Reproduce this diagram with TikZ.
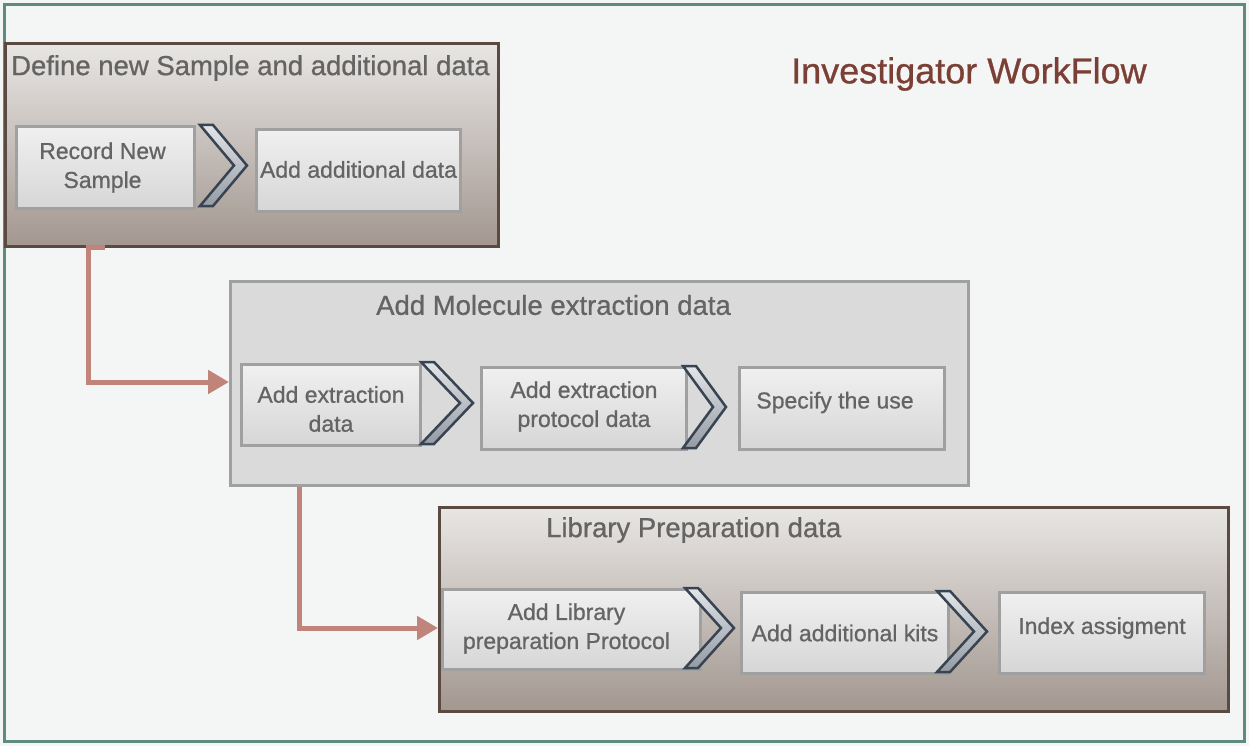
\documentclass[tikz,border=0pt]{standalone}
\usepackage{fontspec}
\setmainfont{Liberation Sans}
\newfontfamily\medfont[FakeBold=0.8]{Liberation Sans}
\usetikzlibrary{arrows.meta}
\definecolor{bgc}{HTML}{F4F6F5}
\definecolor{framec}{HTML}{5F8A80}
\definecolor{brownb}{HTML}{5A4A42}
\definecolor{gtop}{HTML}{E8E6E4}
\definecolor{gbot}{HTML}{A39790}
\definecolor{grayb}{HTML}{A0A0A0}
\definecolor{grayfill}{HTML}{DADADA}
\definecolor{txt}{HTML}{646464}
\definecolor{itop}{HTML}{F0F0F0}
\definecolor{ibot}{HTML}{D6D6D6}
\definecolor{chevb}{HTML}{384452}
\definecolor{chevtop}{HTML}{E2E5E8}
\definecolor{chevbot}{HTML}{959BA4}
\definecolor{arrowc}{HTML}{C0847A}
\definecolor{titlec}{HTML}{7B3F35}
\tikzset{
  stage/.style={draw=brownb, line width=3pt, top color=gtop, bottom color=gbot},
  graystage/.style={draw=grayb, line width=2.5pt, fill=grayfill},
  stepbox/.style={draw=grayb, line width=3pt, top color=itop, bottom color=ibot, inner sep=0pt},
  steptext/.style={text=txt, align=center, font=\medfont\fontsize{23}{29}\selectfont, inner sep=0pt},
  chev/.style={draw=chevb, line width=2.5pt, top color=chevtop, bottom color=chevbot, line join=miter},
  flow/.style={draw=arrowc, line width=5pt, -{Triangle[length=21pt,width=23pt]}},
  head/.style={text=txt, font=\medfont\fontsize{27.5}{32}\selectfont, anchor=west, inner sep=0pt}
}
\newcommand{\chevron}[4]{% x0, y0, x1, y1
  \path[chev] (#1,#2) -- ({#1+13},#2) -- (#3,{(#2+#4)/2}) -- ({#1+13},#4) -- (#1,#4) -- ({#3-13},{(#2+#4)/2}) -- cycle;
}
\begin{document}
\begin{tikzpicture}[x=1pt,y=-1pt]
\useasboundingbox (0,0) rectangle (1249,746);
\fill[bgc] (0,0) rectangle (1249,746);
\draw[framec, line width=3pt] (4,5) rectangle (1244,741);

\node[text=titlec, font=\medfont\fontsize{36}{42}\selectfont, anchor=west, inner sep=0pt] (title) at (791,74) {Investigator WorkFlow};

% Stage 1
\node[stage, minimum width=493pt, minimum height=203pt, anchor=north west] (s1) at (4,42) {};
\node[head] (s1t) at (11,68) {Define new Sample and additional data};
\node[stepbox, minimum width=178pt, minimum height=82pt, anchor=north west] (a1) at (15,125) {};
\node[steptext] (a1t) at ([xshift=-3pt]a1.center) {Record New\\Sample};
\chevron{200}{125}{247}{206}
\node[stepbox, minimum width=204pt, minimum height=82pt, anchor=north west] (a2) at (255,128) {};
\node[steptext] (a2t) at ([yshift=1pt]a2.center) {Add additional data};

% Stage 2
\node[graystage, minimum width=738pt, minimum height=204pt, anchor=north west] (s2) at (229,280) {};
\node[head] (s2t) at (376,305) {Add Molecule extraction data};
\node[stepbox, minimum width=179pt, minimum height=81pt, anchor=north west] (b1) at (240,363) {};
\node[steptext] (b1t) at ([yshift=-4pt]b1.center) {Add extraction\\data};
\chevron{421}{362}{473}{444}
\node[stepbox, minimum width=205pt, minimum height=82pt, anchor=north west] (b2) at (480,366) {};
\node[steptext] (b2t) at ([yshift=2pt]b2.center) {Add extraction\\protocol data};
\chevron{683}{366}{726}{448}
\node[stepbox, minimum width=205pt, minimum height=82pt, anchor=north west] (b3) at (738,366) {};
\node[steptext] (b3t) at ([xshift=-7pt,yshift=6pt]b3.center) {Specify the use};

% Stage 3
\node[stage, minimum width=789pt, minimum height=204pt, anchor=north west] (s3) at (438,506) {};
\node[head] (s3t) at (546,530) {Library Preparation data};
\node[stepbox, minimum width=258pt, minimum height=80pt, anchor=north west] (c1) at (441,588) {};
\node[steptext] (c1t) at ([xshift=-5pt,yshift=1pt]c1.center) {Add Library\\preparation Protocol};
\chevron{685}{588}{734}{668}
\node[stepbox, minimum width=207pt, minimum height=81pt, anchor=north west] (c2) at (740,591) {};
\node[steptext] (c2t) at (c2.center) {Add additional kits};
\chevron{937}{591}{987}{672}
\node[stepbox, minimum width=205pt, minimum height=81pt, anchor=north west] (c3) at (998,591) {};
\node[steptext] (c3t) at ([yshift=5pt]c3.center) {Index assigment};

% connectors
\coordinate (k1) at (105,247);
\draw[flow] (k1) -- (88,247) |- ([yshift=-102pt]s2.north west);
\draw[flow] (s2.south -| 299,0) |- ([yshift=-122pt]s3.north west);
\end{tikzpicture}
\end{document}
